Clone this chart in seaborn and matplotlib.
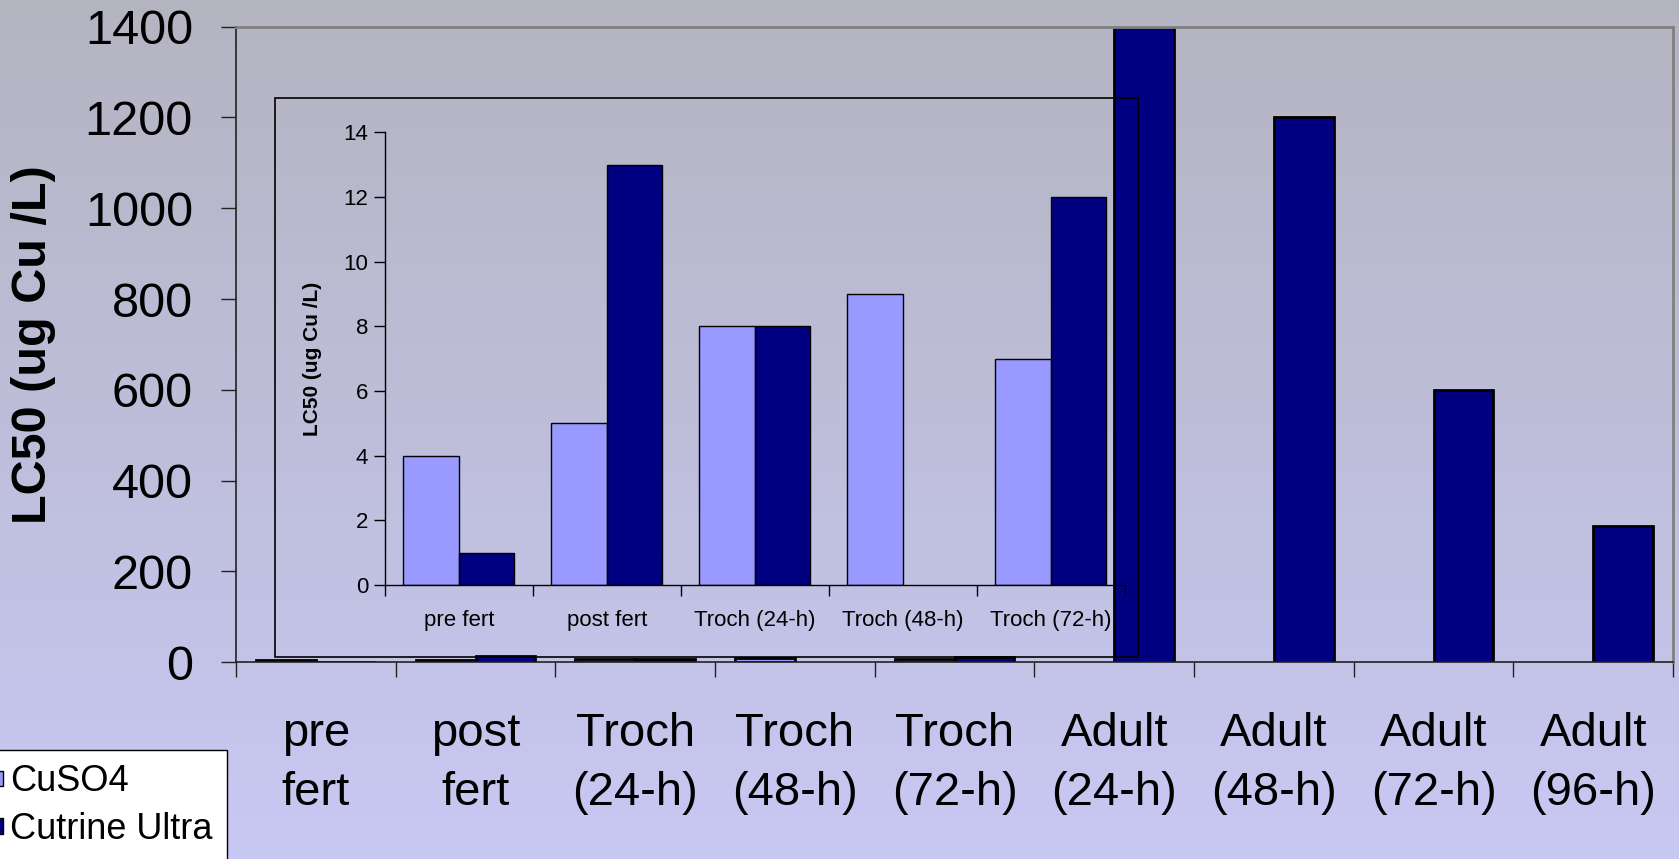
import numpy as np
import pandas as pd
import matplotlib
matplotlib.use("Agg")
import matplotlib.pyplot as plt
from matplotlib.patches import Patch, Rectangle
import seaborn as sns

# data (None = no bar)
main_labels = ["pre\nfert", "post\nfert", "Troch\n(24-h)", "Troch\n(48-h)", "Troch\n(72-h)",
               "Adult\n(24-h)", "Adult\n(48-h)", "Adult\n(72-h)", "Adult\n(96-h)"]
cuso4_main = [4, 5, 8, 9, 7, None, None, None, None]
cutrine_main = [1, 13, 8, None, 12, 1400, 1200, 600, 300]

inset_labels = ["pre fert", "post fert", "Troch (24-h)", "Troch (48-h)", "Troch (72-h)"]
cuso4_inset = [4, 5, 8, 9, 7]
cutrine_inset = [1, 13, 8, None, 12]

series = ["CuSO4", "Cutrine Ultra"]
palette = {"CuSO4": "#9999FF", "Cutrine Ultra": "#000080"}


def to_long(labels, a, b):
    rows = []
    for lab, va, vb in zip(labels, a, b):
        if va is not None:
            rows.append((lab, "CuSO4", va))
        if vb is not None:
            rows.append((lab, "Cutrine Ultra", vb))
    return pd.DataFrame(rows, columns=["stage", "product", "lc50"])


sns.set_style("ticks")
plt.rcParams['font.family'] = ['Liberation Sans', 'DejaVu Sans']
for key in ['text.color', 'axes.labelcolor', 'xtick.color', 'ytick.color']:
    plt.rcParams[key] = 'black'

fig = plt.figure(figsize=(16.79, 8.59), dpi=100)

# gradient background
bg = fig.add_axes([0, 0, 1, 1], zorder=-10)
top = np.array([180, 180, 193]) / 255
bot = np.array([200, 200, 244]) / 255
t = np.linspace(0, 1, 256)[:, None]
grad = (top[None, :] * (1 - t) + bot[None, :] * t)[:, None, :]
bg.imshow(grad, aspect='auto', extent=[0, 1, 0, 1])
bg.axis('off')

# main chart
ax = fig.add_axes([0.14056, 0.22899, 0.85587, 0.73993])
ax.set_facecolor('none')
df_main = to_long(main_labels, cuso4_main, cutrine_main)
sns.barplot(data=df_main, x="stage", y="lc50", hue="product", order=main_labels,
            hue_order=series, palette=palette, width=0.75, edgecolor='black',
            linewidth=2, saturation=1, legend=False, ax=ax)
ax.set_xlim(-0.5, len(main_labels) - 0.5)
ax.set_ylim(0, 1400)
ax.set_yticks(range(0, 1401, 200))
ax.set_xticks(np.arange(-0.5, len(main_labels)), minor=False)
ax.set_xticklabels([])
ax.set_xticks(np.arange(len(main_labels)), minor=True)
ax.set_xticklabels(main_labels, minor=True, fontsize=34, linespacing=1.42)
ax.tick_params(axis='x', which='minor', length=0, pad=36)
ax.tick_params(axis='x', which='major', direction='out', length=11, width=1, color='#222222')
ax.tick_params(axis='y', direction='out', length=11, width=1, color='#222222', labelsize=35, pad=20)
ax.set_xlabel('')
ax.set_ylabel('LC50 (ug Cu /L)', fontsize=35, fontweight='bold')
ax.yaxis.set_label_coords(-0.125, 0.5)
for side in ['left', 'bottom']:
    ax.spines[side].set_color('#222222')
    ax.spines[side].set_linewidth(1.2)
for side in ['top', 'right']:
    ax.spines[side].set_visible(True)
    ax.spines[side].set_color('#808080')
    ax.spines[side].set_linewidth(2)

# inset frame
fig.patches.append(Rectangle((0.16397, 0.23481), 0.51382, 0.65076, transform=fig.transFigure,
                             fill=False, edgecolor='black', linewidth=1.2, zorder=5))

# inset chart
axi = fig.add_axes([0.2293, 0.31897, 0.44074, 0.52701], zorder=6)
axi.set_facecolor('none')
df_in = to_long(inset_labels, cuso4_inset, cutrine_inset)
sns.barplot(data=df_in, x="stage", y="lc50", hue="product", order=inset_labels,
            hue_order=series, palette=palette, width=0.75, edgecolor='black',
            linewidth=1, saturation=1, legend=False, ax=axi)
axi.set_xlim(-0.5, len(inset_labels) - 0.5)
axi.set_ylim(0, 14)
axi.set_yticks(range(0, 15, 2))
axi.set_xticks(np.arange(-0.5, len(inset_labels)), minor=False)
axi.set_xticklabels([])
axi.set_xticks(np.arange(len(inset_labels)), minor=True)
axi.set_xticklabels(inset_labels, minor=True, fontsize=16)
axi.tick_params(axis='x', which='minor', length=0, pad=18)
axi.tick_params(axis='x', which='major', direction='out', length=8, width=1)
axi.tick_params(axis='y', direction='out', length=8, width=1, labelsize=16, pad=4)
axi.set_xlabel('')
axi.set_ylabel('LC50 (ug Cu /L)', fontsize=15, fontweight='bold')
axi.yaxis.set_label_coords(-0.085, 0.5)
for side in ['top', 'right']:
    axi.spines[side].set_visible(False)
for side in ['left', 'bottom']:
    axi.spines[side].set_color('black')
    axi.spines[side].set_linewidth(1)

# legend, partly cut off at the left edge like the original
handles = [Patch(facecolor=palette[s], edgecolor='black', label=s) for s in series]
leg = fig.legend(handles=handles, loc='upper right',
                 bbox_to_anchor=(226.7 / 1679, (859 - 750) / 859), bbox_transform=fig.transFigure,
                 fontsize=26, frameon=True, fancybox=False, framealpha=1,
                 edgecolor='black', facecolor='white', handlelength=0.3, handleheight=0.3,
                 handletextpad=0.2, borderpad=0.4, labelspacing=0.35, borderaxespad=0)
leg.get_frame().set_linewidth(1)

fig.savefig("out.png", dpi=100)
